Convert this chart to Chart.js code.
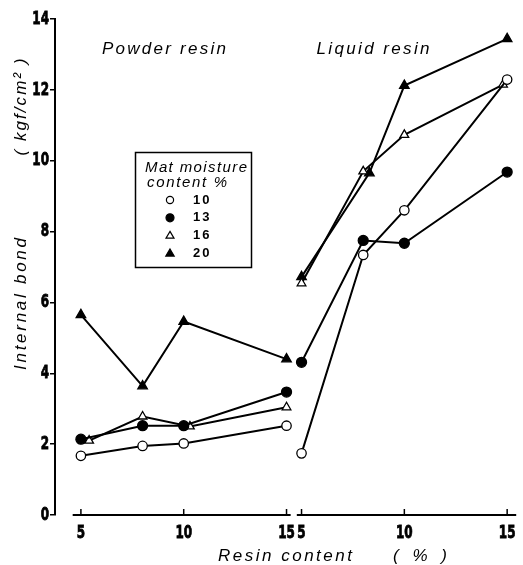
<!DOCTYPE html>
<html>
<head>
<meta charset="utf-8">
<script src="https://cdn.jsdelivr.net/npm/chart.js@4.4.1/dist/chart.umd.min.js"></script>
<style>
  html, body { margin: 0; padding: 0; background: #fff; }
  #wrap { width: 523px; height: 565px; }
</style>
</head>
<body>
<div id="wrap"><canvas id="bondChart" width="523" height="565"></canvas></div>
<script>
// resin content (%) and internal bond (kgf/cm2)
const moistureLabels = ["10", "13", "16", "20"];
const powderX = [5, 8, 10, 15];
const powderX16 = [5.4, 8, 10.3, 15];
const liquidX = [5, 8, 10, 15];
const liquidX16 = [5, 8, 10, 14.8];
const liquidX20 = [5, 8.3, 10, 15];

const powder10 = [1.67, 1.95, 2.02, 2.52];
const powder13 = [2.14, 2.52, 2.52, 3.47];
const powder16 = [2.10, 2.78, 2.50, 3.04];
const powder20 = [5.65, 3.64, 5.46, 4.40];

const liquid10 = [1.74, 7.34, 8.60, 12.29];
const liquid13 = [4.31, 7.75, 7.67, 9.68];
const liquid16 = [6.54, 9.70, 10.73, 12.15];
const liquid20 = [6.72, 9.65, 12.12, 13.44];

const xTickLabels = [5, 10, 15];
const yTicks = [0, 2, 4, 6, 8, 10, 12, 14];

// liquid resin group sits to the right of the powder group on one axis
const liquidShift = 10.73;

function series(px, py, lx, ly) {
  const pts = px.map((x, i) => ({ x: x, y: py[i] }));
  pts.push({ x: 15.4, y: null }); // break between the groups
  lx.forEach((x, i) => pts.push({ x: x + liquidShift, y: ly[i] }));
  return pts;
}

const markerStyle = [
  { style: "circle", fill: "#fff", r: 4.7 },
  { style: "circle", fill: "#000", r: 5 },
  { style: "triangle", fill: "#fff", r: 5 },
  { style: "triangle", fill: "#000", r: 5.5 }
];

const seriesData = [
  series(powderX, powder10, liquidX, liquid10),
  series(powderX, powder13, liquidX, liquid13),
  series(powderX16, powder16, liquidX16, liquid16),
  series(powderX, powder20, liquidX20, liquid20)
];

const tickFont = "bold 18px 'DejaVu Sans Condensed', 'DejaVu Sans', sans-serif";
const textFont = "italic 17px 'Liberation Sans', Arial, sans-serif";

function drawMarker(ctx, style, fill, r, x, y) {
  ctx.save();
  ctx.fillStyle = fill;
  ctx.strokeStyle = "#000";
  ctx.lineWidth = 1.2;
  ctx.beginPath();
  if (style === "circle") {
    ctx.arc(x, y, r, 0, Math.PI * 2);
  } else {
    ctx.moveTo(x, y - r);
    ctx.lineTo(x + r * 0.95, y + r * 0.6);
    ctx.lineTo(x - r * 0.95, y + r * 0.6);
    ctx.closePath();
  }
  ctx.fill();
  ctx.stroke();
  ctx.restore();
}

// stretch text with letter spacing so it covers a given length
function fitText(ctx, text, cx, cy, len, angle) {
  ctx.save();
  ctx.letterSpacing = "0px";
  const natural = ctx.measureText(text).width;
  const gap = Math.max(0, (len - natural) / (text.length - 1));
  ctx.letterSpacing = gap.toFixed(2) + "px";
  ctx.translate(cx, cy);
  if (angle) ctx.rotate(angle);
  ctx.textAlign = "left";
  ctx.textBaseline = "middle";
  ctx.fillText(text, -len / 2, 0);
  ctx.restore();
}

function condensedLabel(ctx, text, x, y, align) {
  ctx.save();
  ctx.translate(x, y);
  ctx.scale(0.74, 1);
  ctx.font = tickFont;
  ctx.textAlign = align;
  ctx.textBaseline = "middle";
  ctx.lineWidth = 0.8;
  ctx.strokeStyle = "#000";
  ctx.fillText(text, 0, 0);
  ctx.strokeText(text, 0, 0);
  ctx.restore();
}

const extras = {
  id: "extras",
  afterDraw(chart) {
    const ctx = chart.ctx;
    const xs = chart.scales.x;
    const ys = chart.scales.y;
    const bottom = chart.chartArea.bottom;
    ctx.save();
    ctx.strokeStyle = "#000";
    ctx.fillStyle = "#000";

    // broken x axis with small inward ticks
    ctx.lineWidth = 2;
    [[4.6, 15.2], [15.5, xs.max]].forEach(seg => {
      ctx.beginPath();
      ctx.moveTo(xs.getPixelForValue(seg[0]), bottom);
      ctx.lineTo(xs.getPixelForValue(seg[1]), bottom);
      ctx.stroke();
    });
    ctx.lineWidth = 1.5;
    xs.ticks.forEach(t => {
      const px = xs.getPixelForValue(t.value);
      ctx.beginPath();
      ctx.moveTo(px, bottom);
      ctx.lineTo(px, bottom - 6);
      ctx.stroke();
      condensedLabel(ctx, t.label, px, 533, "center");
    });
    ys.ticks.forEach(t => {
      condensedLabel(ctx, t.label, 49, ys.getPixelForValue(t.value), "right");
    });

    // group labels and axis titles
    ctx.font = textFont;
    fitText(ctx, "Powder resin", 164, 49, 124);
    fitText(ctx, "Liquid resin", 373, 49, 113);
    fitText(ctx, "Resin content", 285, 556, 134);
    fitText(ctx, "( % )", 420, 556, 54);
    fitText(ctx, "Internal bond", 21, 304, 132, -Math.PI / 2);
    fitText(ctx, "( kgf/cm\u00b2 )", 21, 107, 97, -Math.PI / 2);

    // legend box
    ctx.lineWidth = 1.5;
    ctx.strokeRect(135.5, 152.5, 116, 115);
    ctx.font = "italic 15px 'Liberation Sans', Arial, sans-serif";
    fitText(ctx, "Mat moisture", 196, 168, 102);
    fitText(ctx, "content %", 187, 183, 80);
    ctx.font = "bold 13px 'Liberation Sans', Arial, sans-serif";
    ctx.letterSpacing = "2px";
    ctx.textBaseline = "middle";
    ctx.textAlign = "left";
    const legendMarks = [3.6, 4, 4.2, 4.4];
    moistureLabels.forEach((lab, i) => {
      const y = 200 + i * 17.8;
      drawMarker(ctx, markerStyle[i].style, markerStyle[i].fill, legendMarks[i], 170, y);
      ctx.fillStyle = "#000";
      ctx.fillText(lab, 193, y);
    });
    ctx.restore();
  }
};

new Chart(document.getElementById("bondChart").getContext("2d"), {
  type: "line",
  data: {
    datasets: seriesData.map((pts, i) => ({
      label: moistureLabels[i],
      data: pts,
      borderColor: "#000",
      borderWidth: 2,
      pointStyle: markerStyle[i].style,
      pointRadius: markerStyle[i].r,
      pointBackgroundColor: markerStyle[i].fill,
      pointBorderColor: "#000",
      pointBorderWidth: 1.3,
      spanGaps: false,
      tension: 0
    }))
  },
  options: {
    responsive: false,
    animation: false,
    events: [],
    layout: { padding: { top: 19, right: 5, left: 0, bottom: 0 } },
    plugins: { legend: { display: false }, tooltip: { enabled: false } },
    scales: {
      x: {
        type: "linear",
        min: 3.74,
        max: 26.17,
        afterBuildTicks(scale) {
          const vals = xTickLabels.concat(xTickLabels.map(v => v + liquidShift));
          scale.ticks = vals.map(v => ({ value: v }));
        },
        afterFit(scale) { scale.height = 50; },
        border: { display: false },
        grid: { display: false },
        ticks: {
          display: false,
          autoSkip: false,
          callback: v => String(Math.round(v > 15.5 ? v - liquidShift : v))
        }
      },
      y: {
        min: 0,
        max: 14,
        afterBuildTicks(scale) { scale.ticks = yTicks.map(v => ({ value: v })); },
        afterFit(scale) { scale.width = 55; },
        border: { display: true, color: "#000", width: 2 },
        grid: { drawOnChartArea: false, color: "#000", lineWidth: 1.5, tickLength: 5 },
        ticks: { display: false, autoSkip: false }
      }
    }
  },
  plugins: [extras]
});
</script>
</body>
</html>
